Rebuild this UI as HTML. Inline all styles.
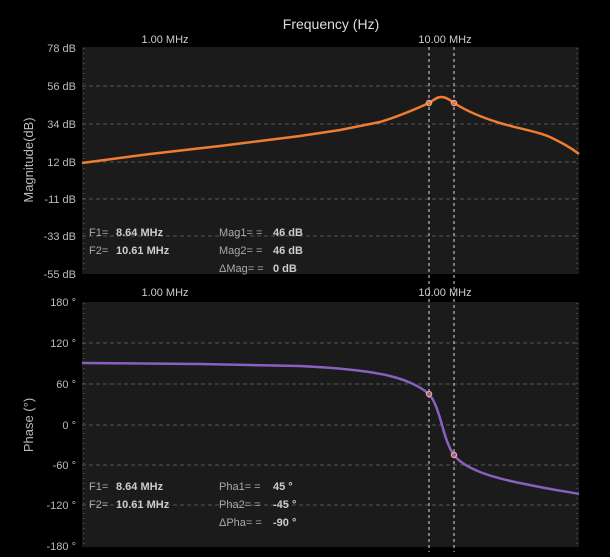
<!DOCTYPE html><html><head><meta charset="utf-8"><style>
body{margin:0;background:#000;width:610px;height:552px;overflow:hidden;font-family:"Liberation Sans",sans-serif}
</style></head><body>
<svg width="610" height="552" xmlns="http://www.w3.org/2000/svg" font-family="Liberation Sans, sans-serif">
<rect width="610" height="552" fill="#000"/>
<text x="331" y="29" fill="#ddd" font-size="14" text-anchor="middle">Frequency (Hz)</text>
<rect x="82" y="47" width="497" height="227" fill="#1b1b1b"/>
<rect x="82" y="302" width="497" height="245" fill="#1b1b1b"/>
<g stroke="#555" stroke-dasharray="4,3" stroke-width="1">
<line x1="82" x2="579" y1="86" y2="86"/><line x1="82" x2="579" y1="124" y2="124"/><line x1="82" x2="579" y1="162" y2="162"/><line x1="82" x2="579" y1="199" y2="199"/><line x1="82" x2="579" y1="236" y2="236"/>
<line x1="82" x2="579" y1="343" y2="343"/><line x1="82" x2="579" y1="384" y2="384"/><line x1="82" x2="579" y1="425" y2="425"/><line x1="82" x2="579" y1="465" y2="465"/><line x1="82" x2="579" y1="505" y2="505"/>
</g>
<g stroke="#666" stroke-width="1" stroke-dasharray="1,4">
<line x1="84" x2="84" y1="48" y2="273"/><line x1="577" x2="577" y1="48" y2="273"/>
<line x1="84" x2="84" y1="303" y2="546"/><line x1="577" x2="577" y1="303" y2="546"/>
</g>
<g fill="#bbb" font-size="11" text-anchor="end">
<text x="76" y="52">78 dB</text><text x="76" y="90">56 dB</text><text x="76" y="128">34 dB</text><text x="76" y="166">12 dB</text><text x="76" y="203">-11 dB</text><text x="76" y="240">-33 dB</text><text x="76" y="278">-55 dB</text>
<text x="76" y="306">180 °</text><text x="76" y="347">120 °</text><text x="76" y="388">60 °</text><text x="76" y="429">0 °</text><text x="76" y="469">-60 °</text><text x="76" y="509">-120 °</text><text x="76" y="550">-180 °</text>
</g>
<g fill="#ccc" font-size="11" text-anchor="middle">
<text x="165" y="43">1.00 MHz</text><text x="445" y="43">10.00 MHz</text>
<text x="165" y="296">1.00 MHz</text><text x="445" y="296">10.00 MHz</text>
</g>
<text transform="translate(33,160) rotate(-90)" fill="#bbb" font-size="13" text-anchor="middle">Magnitude(dB)</text>
<text transform="translate(33,425) rotate(-90)" fill="#bbb" font-size="13" text-anchor="middle">Phase (°)</text>
<g stroke="#ddd" stroke-dasharray="3,3"><line x1="429" x2="429" y1="47" y2="552"/><line x1="454" x2="454" y1="47" y2="552"/></g>
<path d="M82,163 L150,154 L220,146 L300,136 L340,130 L380,122 C400,116 418,108 429,103 C434,100 437,97 441,97 C446,97 450,100 454,103 C465,110 480,117 500,123 C520,129 540,132 552,138 C562,143 570,147 579,154" fill="none" stroke="#f07d2f" stroke-width="2.5"/>
<g fill="none" stroke="#f3a08a" stroke-width="1.5"><circle cx="429" cy="103" r="2.5"/><circle cx="454" cy="103" r="2.5"/></g>
<g fill="#ccc" font-size="11">
<text x="89" y="236" fill="#aaa">F1=</text><text x="116" y="236" font-weight="bold">8.64 MHz</text>
<text x="89" y="254" fill="#aaa">F2=</text><text x="116" y="254" font-weight="bold">10.61 MHz</text>
<text x="219" y="236" fill="#aaa">Mag1=  =</text><text x="273" y="236" font-weight="bold">46 dB</text>
<text x="219" y="254" fill="#aaa">Mag2=  =</text><text x="273" y="254" font-weight="bold">46 dB</text>
<text x="219" y="272" fill="#aaa">ΔMag=  =</text><text x="273" y="272" font-weight="bold">0 dB</text>
</g>
<path d="M82,363 L200,364 L300,366 C340,368 370,371 390,376 C410,381 422,388 429,394 C436,402 440,418 444,432 C447,442 450,450 454,455 C460,463 470,468 480,472 C500,480 530,485 545,488 C560,491 570,492 579,494" fill="none" stroke="#8a5fc0" stroke-width="2.5"/>
<g fill="none" stroke="#f3a08a" stroke-width="1.5"><circle cx="429" cy="394" r="2.5"/><circle cx="454" cy="455" r="2.5"/></g>
<g fill="#ccc" font-size="11">
<text x="89" y="490" fill="#aaa">F1=</text><text x="116" y="490" font-weight="bold">8.64 MHz</text>
<text x="89" y="508" fill="#aaa">F2=</text><text x="116" y="508" font-weight="bold">10.61 MHz</text>
<text x="219" y="490" fill="#aaa">Pha1=  =</text><text x="273" y="490" font-weight="bold">45 °</text>
<text x="219" y="508" fill="#aaa">Pha2=  =</text><text x="273" y="508" font-weight="bold">-45 °</text>
<text x="219" y="526" fill="#aaa">ΔPha=  =</text><text x="273" y="526" font-weight="bold">-90 °</text>
</g>
</svg>
</body></html>
